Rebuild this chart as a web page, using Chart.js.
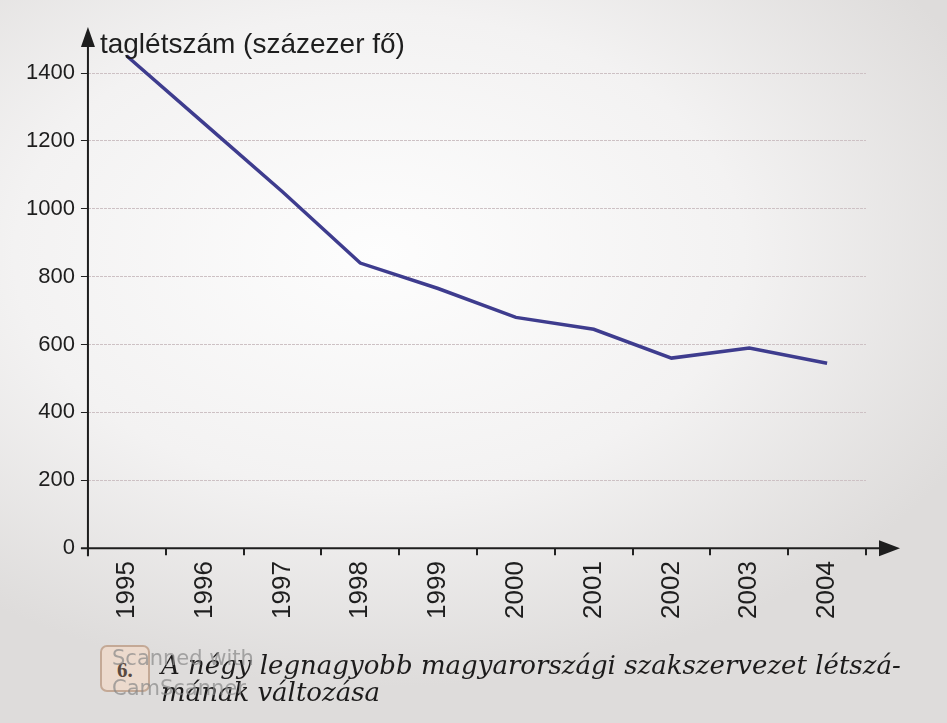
<!DOCTYPE html>
<html>
<head>
<meta charset="utf-8">
<script src="https://cdn.jsdelivr.net/npm/chart.js@4/dist/chart.umd.min.js"></script>
<style>
  html, body { margin: 0; padding: 0; }
  body {
    width: 947px; height: 723px; overflow: hidden;
    background: radial-gradient(ellipse 70% 60% at 40% 35%, #fdfdfd 0%, #f3f2f2 55%, #dedcdb 100%);
  }
  #wrap { position: relative; width: 947px; height: 723px; }
  #chart { position: absolute; left: 0; top: 0; }
  .box {
    position: absolute; left: 100px; top: 645px; width: 50px; height: 47px;
    border: 2px solid #c4a996; border-radius: 7px; background: #ecdacd;
    font: bold 21px "Liberation Serif", serif; color: #5a4a40;
    box-sizing: border-box; padding: 11px 0 0 15px;
  }
  .cap {
    position: absolute; left: 161px; font: italic 26px "DejaVu Serif", serif;
    color: #1c1b1b; white-space: nowrap;
  }
  .wm { position: absolute; left: 112px; font: 21px "DejaVu Sans", sans-serif; color: rgba(135,135,135,0.7); }
</style>
</head>
<body>
<div id="wrap">
  <canvas id="chart" width="947" height="723"></canvas>
  <div class="box">6.</div>
  <div class="cap" style="top:650px">A négy legnagyobb magyarországi szakszervezet létszá-</div>
  <div class="cap" style="top:677px">mának változása</div>
  <div class="wm" style="top:646px">Scanned with</div>
  <div class="wm" style="top:676px">CamScanner</div>
</div>
<script>
const years = ['1995', '1996', '1997', '1998', '1999', '2000', '2001', '2002', '2003', '2004'];
const members = [1450, 1250, 1050, 840, 765, 680, 645, 560, 590, 545];
const yTicks = [0, 200, 400, 600, 800, 1000, 1200, 1400];
const axisTitle = 'taglétszám (százezer fő)';

// axes with arrow heads, like the textbook figure
const arrowAxes = {
  id: 'arrowAxes',
  afterDraw(chart) {
    const { ctx, chartArea } = chart;
    const x0 = chartArea.left, y0 = chartArea.bottom;
    ctx.save();
    ctx.strokeStyle = '#1e1e1e';
    ctx.fillStyle = '#1e1e1e';
    ctx.lineWidth = 2;
    ctx.beginPath();
    ctx.moveTo(x0, y0 + 8);
    ctx.lineTo(x0, 40);
    ctx.moveTo(x0 - 7, y0);
    ctx.lineTo(886, y0);
    ctx.stroke();
    // y arrow
    ctx.beginPath();
    ctx.moveTo(x0, 27);
    ctx.lineTo(x0 - 7, 47);
    ctx.lineTo(x0 + 7, 47);
    ctx.closePath();
    ctx.fill();
    // x arrow
    ctx.beginPath();
    ctx.moveTo(900, y0);
    ctx.lineTo(879, y0 - 8);
    ctx.lineTo(879, y0 + 8);
    ctx.closePath();
    ctx.fill();
    ctx.font = '28px "Liberation Sans", Arial, sans-serif';
    ctx.textBaseline = 'alphabetic';
    ctx.fillText(axisTitle, x0 + 12, 53);
    ctx.restore();
  }
};

new Chart(document.getElementById('chart'), {
  type: 'line',
  data: {
    labels: years,
    datasets: [{
      data: members,
      borderColor: '#3e3c8e',
      borderWidth: 3.5,
      pointRadius: 0,
      tension: 0,
      clip: false
    }]
  },
  options: {
    responsive: false,
    animation: false,
    layout: { padding: { top: 73, left: 20, right: 81, bottom: 98 } },
    plugins: { legend: { display: false }, tooltip: { enabled: false } },
    scales: {
      x: {
        offset: true,
        grid: { offset: true, drawOnChartArea: false, tickLength: 7, tickColor: '#222', lineWidth: 2 },
        border: { display: false },
        ticks: {
          color: '#1e1e1e', minRotation: 90, maxRotation: 90, padding: 6,
          font: { size: 26, family: '"Liberation Sans", Arial, sans-serif' }
        }
      },
      y: {
        min: 0, max: 1400,
        afterBuildTicks: (s) => { s.ticks = yTicks.map(v => ({ value: v })); },
        grid: { color: '#cdc1c4', lineWidth: 1, tickLength: 7, tickColor: '#222', drawTicks: true },
        border: { display: false, dash: [3, 1] },
        ticks: {
          color: '#1e1e1e', padding: 6,
          font: { size: 22, family: '"Liberation Sans", Arial, sans-serif' },
          callback: (v) => String(v)
        }
      }
    }
  },
  plugins: [arrowAxes]
});
</script>
</body>
</html>
